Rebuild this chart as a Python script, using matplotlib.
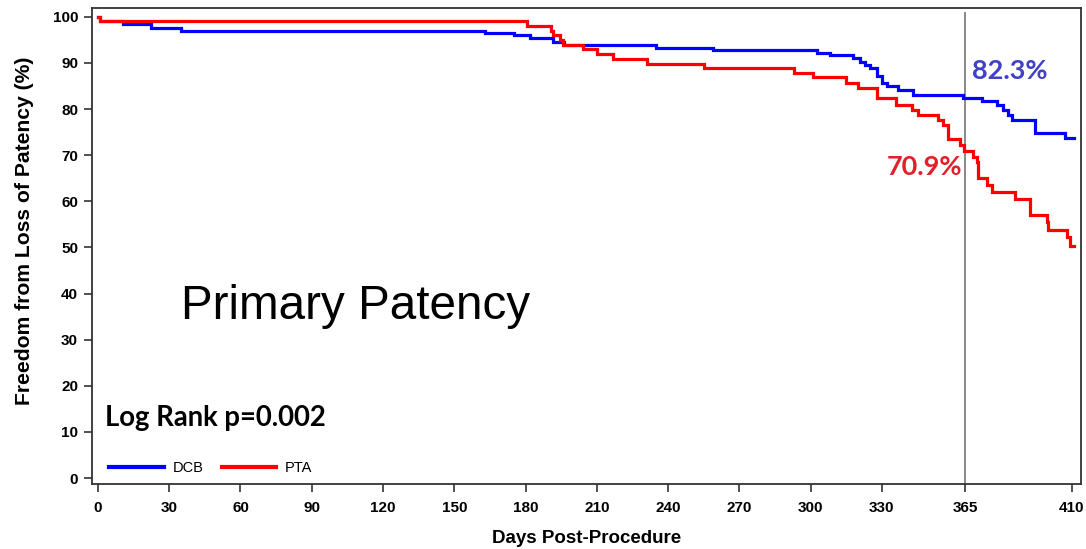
import matplotlib
matplotlib.use("Agg")
import matplotlib.pyplot as plt

# Kaplan-Meier step data: event days and survival (%) after each step
dcb_days = [0, 1, 10.5, 22.3, 35, 163, 175, 182, 191.5, 196, 235, 259, 302.6, 308,
            318, 320.8, 323, 325, 328, 330, 332, 336.8, 343, 364, 372, 378.5, 381,
            383, 384.7, 394.4, 407]
dcb_surv = [100, 99.0, 98.4, 97.5, 97.0, 96.4, 96.0, 95.4, 94.6, 93.9, 93.3, 92.7,
            92.2, 91.7, 91.0, 90.3, 89.6, 88.8, 87.2, 85.6, 84.9, 84.1, 83.0, 82.3,
            81.8, 80.9, 79.8, 78.7, 77.6, 74.8, 73.8]
dcb_end = 411

pta_days = [0, 1, 180.6, 190.7, 191.5, 194.5, 195.8, 204, 210, 217, 231, 255, 293,
            301, 315, 320, 328, 336, 342.5, 345.3, 353.7, 355.8, 357.9, 362.9, 364.5,
            368.5, 369.9, 370.6, 374.1, 376.2, 386, 392.3, 399.4, 400, 407.8, 409.2]
pta_surv = [100, 99.0, 98.1, 96.9, 96.0, 95.0, 93.9, 93.0, 91.9, 90.9, 89.8, 88.8,
            87.9, 86.9, 85.6, 84.5, 82.3, 80.9, 79.8, 78.8, 77.6, 76.5, 73.4, 72.2,
            70.9, 69.7, 68.6, 65.0, 63.5, 62.1, 60.6, 57.0, 55.6, 53.8, 52.3, 50.4]
pta_end = 410.8

x_ticks = [0, 30, 60, 90, 120, 150, 180, 210, 240, 270, 300, 330, 365, 410]
y_ticks = list(range(0, 101, 10))
landmark_day = 365
dcb_at_landmark = 82.3
pta_at_landmark = 70.9

fig = plt.figure(figsize=(10.86, 5.49), dpi=100)
ax = fig.add_axes([0.0847, 0.1184, 0.9107, 0.867])

ax.step(dcb_days + [dcb_end], dcb_surv + [dcb_surv[-1]], where="post",
        color="#0000FF", lw=2.3, label="DCB", solid_joinstyle="miter")
ax.step(pta_days + [pta_end], pta_surv + [pta_surv[-1]], where="post",
        color="#FF0000", lw=2.3, label="PTA", solid_joinstyle="miter")

ax.vlines(landmark_day, -1.3, 101.1, color="#808080", lw=1.3, zorder=1)

ax.set_xlim(-2.5, 413.8)
ax.set_ylim(-1.3, 101.9)
ax.set_xticks(x_ticks)
ax.set_yticks(y_ticks)
ax.tick_params(direction="out", length=6, width=1.2, color="#333333")
ax.tick_params(axis="x", pad=6)
ax.tick_params(axis="y", pad=4)
for lab in ax.get_xticklabels() + ax.get_yticklabels():
    lab.set_fontfamily("Liberation Sans")
    lab.set_fontweight("bold")
    lab.set_fontsize(11)
for sp in ax.spines.values():
    sp.set_color("#333333")
    sp.set_linewidth(1.3)

ax.set_xlabel("Days Post-Procedure", family="Liberation Sans", weight="bold",
              fontsize=13.5, labelpad=11)
ax.set_ylabel("Freedom from Loss of Patency (%)", family="Liberation Sans",
              weight="bold", fontsize=15.2)
ax.yaxis.set_label_coords(-0.059, 0.531)

ax.text(landmark_day + 3, 88.3, f"{dcb_at_landmark}%", color="#4040C8",
        family="Lato", weight="bold", fontsize=19.5, ha="left", va="center")
ax.text(landmark_day - 1, 67.4, f"{pta_at_landmark}%", color="#E0202A",
        family="Lato", weight="bold", fontsize=19.5, ha="right", va="center")

ax.text(35, 34.5, "Primary Patency", family="Liberation Sans", fontsize=34.3,
        ha="left", va="baseline", color="black")
ax.text(3, 11.2, "Log Rank p=0.002", family="Lato", weight="bold", fontsize=19.8,
        ha="left", va="baseline", color="black")

leg = ax.legend(loc="lower left", bbox_to_anchor=(0.007, -0.003), ncol=2, frameon=False,
                prop={"family": "Liberation Sans", "size": 10.5}, handlelength=3.75,
                columnspacing=1.25, handletextpad=0.6, borderaxespad=0.3)
for h in leg.get_lines():
    h.set_linewidth(3)

fig.savefig("out.png", dpi=100)
